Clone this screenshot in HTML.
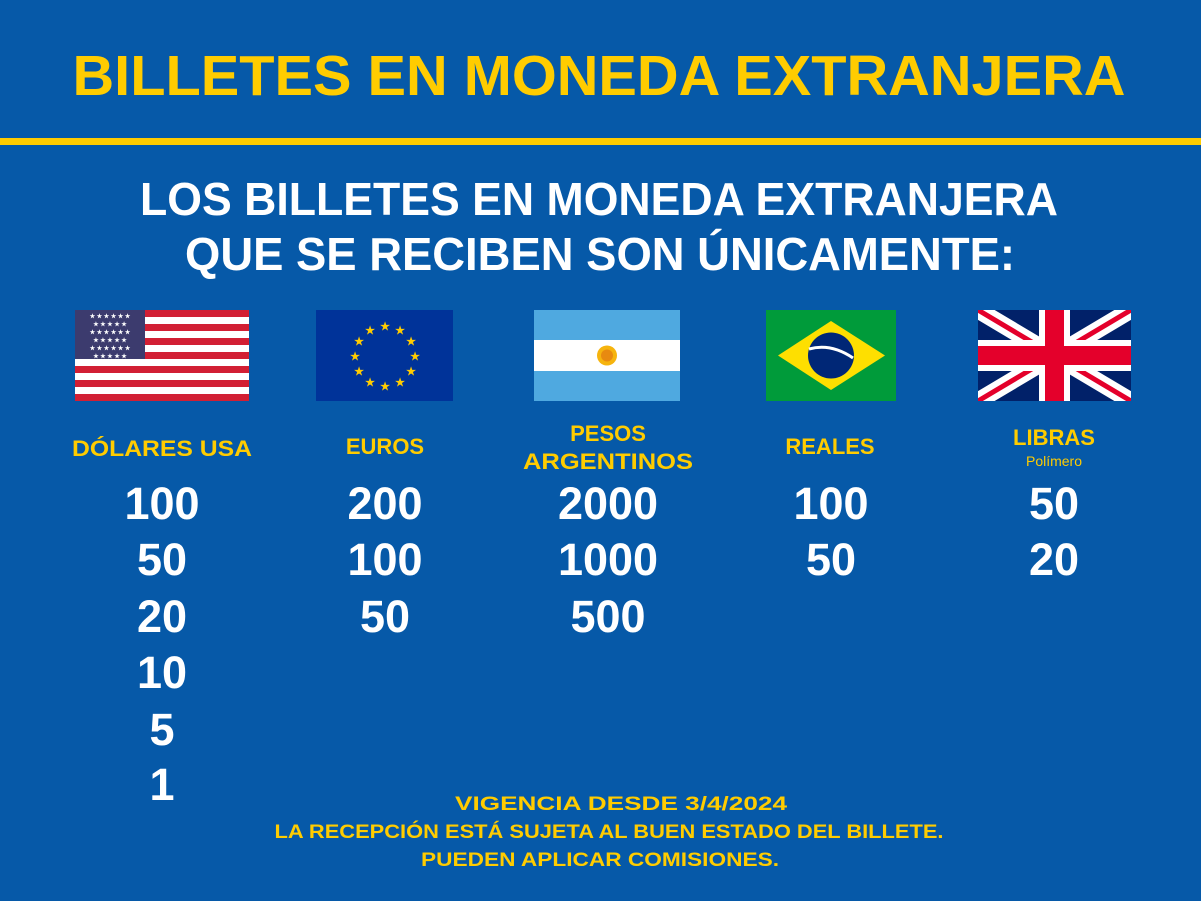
<!DOCTYPE html>
<html><head><meta charset="utf-8"><style>html,body{margin:0;padding:0;background:#0659a8}svg{display:block}text{font-family:"Liberation Sans",sans-serif;font-weight:bold;text-anchor:middle}</style></head>
<body>
<svg width="1201" height="901" viewBox="0 0 1201 901" xmlns="http://www.w3.org/2000/svg">
<defs><clipPath id="uk"><rect x="978" y="310" width="153" height="91"/></clipPath></defs>
<rect width="1201" height="901" fill="#0659a8"/>
<text x="599" y="95" font-size="57" fill="#ffcc00" textLength="1053" lengthAdjust="spacingAndGlyphs">BILLETES EN MONEDA EXTRANJERA</text>
<rect x="0" y="138" width="1201" height="7" fill="#ffcc00"/>
<text x="599" y="215" font-size="46" fill="#fff" textLength="918" lengthAdjust="spacingAndGlyphs">LOS BILLETES EN MONEDA EXTRANJERA</text>
<text x="600" y="270" font-size="46" fill="#fff" textLength="830" lengthAdjust="spacingAndGlyphs">QUE SE RECIBEN SON ÚNICAMENTE:</text>
<g>
<rect x="75" y="310" width="174" height="91" fill="#fff"/>
<g fill="#d21f34">
<rect x="75" y="310" width="174" height="7"/><rect x="75" y="324" width="174" height="7"/><rect x="75" y="338" width="174" height="7"/><rect x="75" y="352" width="174" height="7"/><rect x="75" y="366" width="174" height="7"/><rect x="75" y="380" width="174" height="7"/><rect x="75" y="394" width="174" height="7"/>
</g>
<rect x="75" y="310" width="70" height="49" fill="#3c3b6e"/>
<g fill="#fff"><text x="110" y="318" style="font-size:6px">★ ★ ★ ★ ★ ★</text><text x="110" y="326" style="font-size:6px">★ ★ ★ ★ ★</text><text x="110" y="334" style="font-size:6px">★ ★ ★ ★ ★ ★</text><text x="110" y="342" style="font-size:6px">★ ★ ★ ★ ★</text><text x="110" y="350" style="font-size:6px">★ ★ ★ ★ ★ ★</text><text x="110" y="358" style="font-size:6px">★ ★ ★ ★ ★</text></g>
</g>
<rect x="316" y="310" width="137" height="91" fill="#003399"/>
<g fill="#ffcc00" style="font-size:11px">
<text x="385" y="330">★</text><text x="400" y="334">★</text><text x="411" y="345">★</text><text x="415" y="360">★</text><text x="411" y="375">★</text><text x="400" y="386">★</text><text x="385" y="390">★</text><text x="370" y="386">★</text><text x="359" y="375">★</text><text x="355" y="360">★</text><text x="359" y="345">★</text><text x="370" y="334">★</text>
</g>
<rect x="534" y="310" width="146" height="91" fill="#4fa9e0"/>
<rect x="534" y="340" width="146" height="31" fill="#fff"/>
<circle cx="607" cy="355.5" r="10" fill="#f6b40e"/><circle cx="607" cy="355.5" r="6" fill="#e88a10"/>
<rect x="766" y="310" width="130" height="91" fill="#009b3a"/>
<polygon points="778,355.5 831,321 885,355.5 831,390" fill="#fedf00"/>
<circle cx="831" cy="355.5" r="23" fill="#002776"/>
<path d="M809,349 Q831,343 853,358" stroke="#fff" stroke-width="3" fill="none"/>
<g clip-path="url(#uk)">
<rect x="978" y="310" width="153" height="91" fill="#012169"/>
<path d="M978,310 L1131,401 M1131,310 L978,401" stroke="#fff" stroke-width="17"/>
<path d="M978,310 L1131,401 M1131,310 L978,401" stroke="#e4002b" stroke-width="5"/>
<rect x="978" y="340" width="153" height="31" fill="#fff"/>
<rect x="1039" y="310" width="31" height="91" fill="#fff"/>
<rect x="978" y="346" width="153" height="19" fill="#e4002b"/>
<rect x="1045" y="310" width="19" height="91" fill="#e4002b"/>
</g>
<g fill="#ffcc00" style="font-size:22px">
<text x="162" y="456" textLength="180" lengthAdjust="spacingAndGlyphs">DÓLARES USA</text>
<text x="385" y="454">EUROS</text>
<text x="608" y="441">PESOS</text>
<text x="608" y="469" textLength="170" lengthAdjust="spacingAndGlyphs">ARGENTINOS</text>
<text x="830" y="454">REALES</text>
<text x="1054" y="445">LIBRAS</text>
<text x="1054" y="466" style="font-size:14px;font-weight:normal">Polímero</text>
</g>
<g fill="#fff" style="font-size:45px">
<text x="162" y="519">100</text><text x="162" y="575">50</text><text x="162" y="632">20</text><text x="162" y="688">10</text><text x="162" y="745">5</text><text x="162" y="800">1</text>
<text x="385" y="519">200</text><text x="385" y="575">100</text><text x="385" y="632">50</text>
<text x="608" y="519">2000</text><text x="608" y="575">1000</text><text x="608" y="632">500</text>
<text x="831" y="519">100</text><text x="831" y="575">50</text>
<text x="1054" y="519">50</text><text x="1054" y="575">20</text>
</g>
<g fill="#ffcc00" style="font-size:19px">
<text x="621" y="810" textLength="332" lengthAdjust="spacingAndGlyphs">VIGENCIA DESDE  3/4/2024</text>
<text x="609" y="838" textLength="669" lengthAdjust="spacingAndGlyphs">LA RECEPCIÓN ESTÁ SUJETA AL BUEN ESTADO DEL BILLETE.</text>
<text x="600" y="866" textLength="358" lengthAdjust="spacingAndGlyphs">PUEDEN APLICAR COMISIONES.</text>
</g>
</svg>
</body></html>
